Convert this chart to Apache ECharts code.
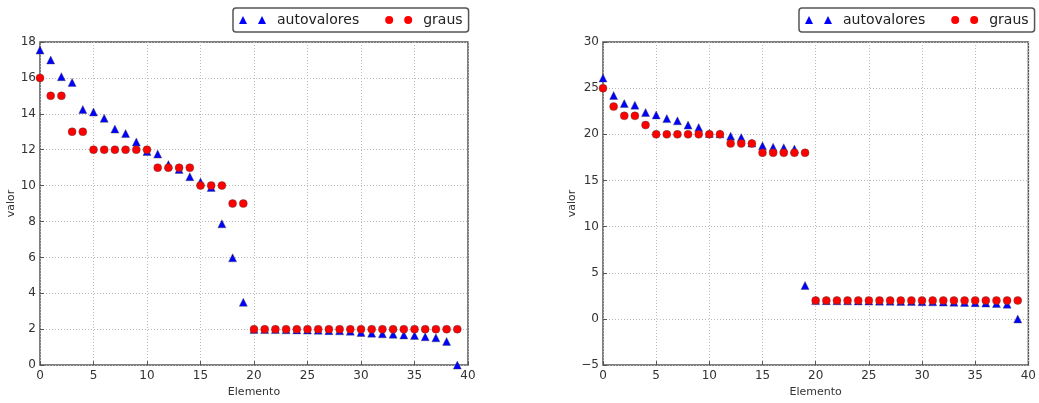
<!DOCTYPE html>
<html>
<head>
<meta charset="utf-8">
<script src="https://cdn.jsdelivr.net/npm/echarts@6/dist/echarts.min.js"></script>
<style>
  html, body { margin: 0; padding: 0; background: #fff; }
  #main { width: 1039px; height: 403px; }
</style>
</head>
<body>
<div id="main"></div>
<script>
// valores
var autovaloresA = [17.55, 17.0, 16.07, 15.75, 14.24, 14.1, 13.75, 13.15, 12.9, 12.43,
    11.9, 11.76, 11.17, 10.9, 10.5, 10.2, 9.9, 7.87, 5.98, 3.5,
    1.99, 1.98, 1.98, 1.97, 1.96, 1.95, 1.94, 1.92, 1.91, 1.89,
    1.82, 1.78, 1.74, 1.72, 1.68, 1.65, 1.58, 1.52, 1.32, 0];
var grausA = [16, 15, 15, 13, 13, 12, 12, 12, 12, 12,
    12, 11, 11, 11, 11, 10, 10, 10, 9, 9,
    2, 2, 2, 2, 2, 2, 2, 2, 2, 2,
    2, 2, 2, 2, 2, 2, 2, 2, 2, 2];
var autovaloresB = [26.1, 24.2, 23.33, 23.16, 22.36, 22.1, 21.7, 21.46, 21.0, 20.73,
    20.1, 20.05, 19.8, 19.65, 19.05, 18.75, 18.6, 18.55, 18.4, 3.62,
    1.99, 1.98, 1.97, 1.96, 1.95, 1.94, 1.93, 1.92, 1.9, 1.89,
    1.87, 1.85, 1.83, 1.81, 1.79, 1.76, 1.72, 1.67, 1.6, 0];
var grausB = [25, 23, 22, 22, 21, 20, 20, 20, 20, 20,
    20, 20, 19, 19, 19, 18, 18, 18, 18, 18,
    2, 2, 2, 2, 2, 2, 2, 2, 2, 2,
    2, 2, 2, 2, 2, 2, 2, 2, 2, 2];

function pares(arr) {
    return arr.map(function (v, i) { return [i, v]; });
}

var fonte = 'DejaVu Sans';
var triIcon = 'path://M0,8 L4,0 L8,8 Z M19,8 L23,0 L27,8 Z';
var circIcon = 'path://M0,4 A4,4 0 1,1 8,4 A4,4 0 1,1 0,4 Z M19,4 A4,4 0 1,1 27,4 A4,4 0 1,1 19,4 Z';

function eixoX(idx) {
    return {
        gridIndex: idx, type: 'value', min: 0, max: 40, interval: 5,
        name: 'Elemento', nameLocation: 'middle', nameGap: 21,
        nameTextStyle: { fontFamily: fonte, fontSize: 11, color: '#333' },
        axisLine: { show: false, onZero: false },
        axisTick: { show: true, inside: true, length: 4, lineStyle: { color: '#555' } },
        axisLabel: { fontFamily: fonte, fontSize: 12, color: '#333', margin: 5 },
        splitLine: { show: true, lineStyle: { color: '#bbb', type: [1, 2], width: 1 } }
    };
}
function eixoY(idx, min, max, interval, gap) {
    return {
        gridIndex: idx, type: 'value', min: min, max: max, interval: interval,
        name: 'valor', nameLocation: 'middle', nameGap: gap, nameRotate: 90,
        nameTextStyle: { fontFamily: fonte, fontSize: 11, color: '#333' },
        axisLine: { show: false, onZero: false },
        axisTick: { show: true, inside: true, length: 4, lineStyle: { color: '#555' } },
        axisLabel: {
            fontFamily: fonte, fontSize: 12, color: '#333', margin: 4,
            formatter: function (v) { return String(v).replace('-', '\u2212'); }
        },
        splitLine: { show: true, lineStyle: { color: '#bbb', type: [1, 2], width: 1 } }
    };
}
function legenda(left) {
    return {
        left: left, top: 8,
        data: [
            { name: 'autovalores', icon: triIcon },
            { name: 'graus', icon: circIcon }
        ],
        itemWidth: 27, itemHeight: 8, itemGap: 26,
        symbolKeepAspect: true,
        itemStyle: { borderWidth: 0 },
        padding: [5, 6, 5, 6],
        borderColor: '#555', borderWidth: 1.5, borderRadius: 3,
        textStyle: { fontFamily: fonte, fontSize: 14, color: '#222', padding: [0, 0, 0, 6] }
    };
}
function serie(nome, idx, dados) {
    var tri = nome === 'autovalores';
    return {
        name: nome, type: 'scatter', xAxisIndex: idx, yAxisIndex: idx,
        data: pares(dados),
        symbol: tri ? 'triangle' : 'circle',
        symbolSize: 8,
        itemStyle: { color: tri ? '#0000ff' : '#ff0000', borderColor: '#444', borderWidth: 0.4, opacity: 1 },
        z: tri ? 2 : 3,
        clip: false
    };
}

var chart = echarts.init(document.getElementById('main'));
chart.setOption({
    animation: false,
    backgroundColor: '#fff',
    legend: [legenda(233), legenda(799)],
    grid: [
        { left: 40, right: 571, top: 42, bottom: 30, show: true, borderColor: '#555', borderWidth: 1.5, backgroundColor: 'transparent' },
        { left: 603, right: 4, top: 42, bottom: 27, show: true, borderColor: '#555', borderWidth: 1.5, backgroundColor: 'transparent' }
    ],
    xAxis: [eixoX(0), eixoX(1)],
    yAxis: [eixoY(0, 0, 18, 2, 21), eixoY(1, -5, 30, 5, 24)],
    series: [
        serie('autovalores', 0, autovaloresA),
        serie('graus', 0, grausA),
        serie('autovalores', 1, autovaloresB),
        serie('graus', 1, grausB)
    ]
});
</script>
</body>
</html>
